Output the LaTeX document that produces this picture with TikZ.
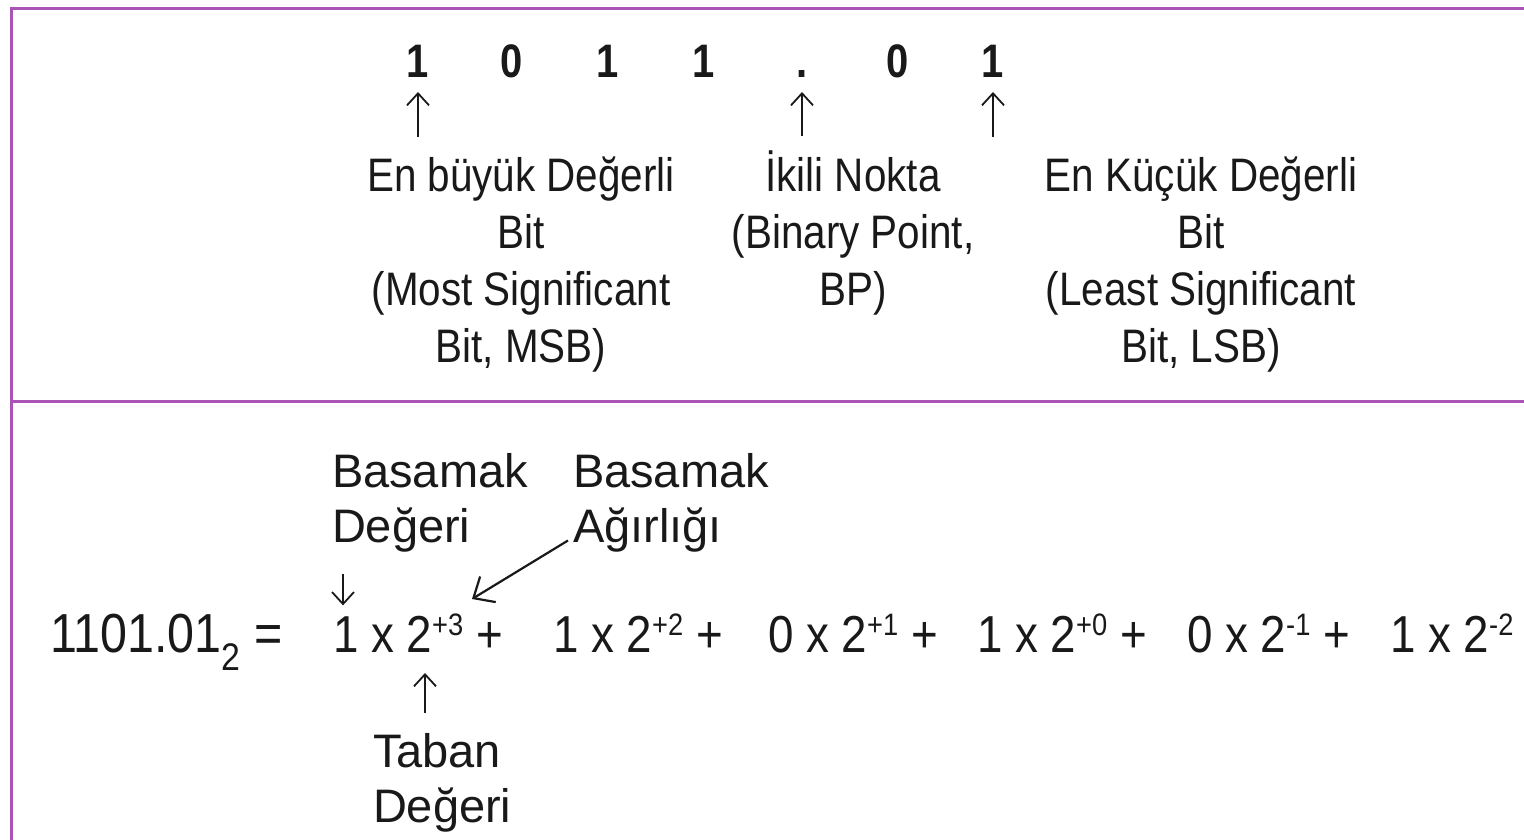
\documentclass[tikz,border=0pt]{standalone}
\usepackage{fontspec}
\setmainfont{Liberation Sans}
\usetikzlibrary{arrows.meta}
\definecolor{tableline}{RGB}{170,84,182}
\definecolor{ink}{RGB}{25,25,25}
% multi-line labels: baseline of the node is the baseline of the first line
\newcommand\toplbl[1]{\scalebox{0.86}[1]{\begin{tabular}[t]{@{}c@{}}#1\end{tabular}}}
\newcommand\botlbl[1]{\begin{tabular}[t]{@{}l@{}}#1\end{tabular}}
\newcommand\narrowdigit[1]{\scalebox{0.85}[1]{#1}}
\newcommand\eqleft[1]{\scalebox{0.88}[1]{#1}}
\newcommand\eqterm[1]{\scalebox{0.88}[1]{#1}}
% exponent set as a raised smaller number
\newcommand\pow[1]{\raisebox{17pt}{\fontsize{31}{31}\selectfont#1}}
\begin{document}
\begin{tikzpicture}[x=1pt,y=-1pt,
  every node/.style={inner sep=0pt, outer sep=0pt, text=ink},
  digit/.style={anchor=base, font=\fontsize{47}{47}\selectfont\bfseries},
  toptext/.style={anchor=base, font=\fontsize{47}{57}\selectfont},
  bottext/.style={anchor=base west, font=\fontsize{47}{55}\selectfont},
  eqbig/.style={anchor=base west, font=\fontsize{55}{55}\selectfont},
  eqtext/.style={anchor=base west, font=\fontsize{52}{52}\selectfont},
  frame/.style={draw=tableline, line width=3pt},
  pointer/.style={draw=ink, line width=1.8pt,
    -{Straight Barb[length=12pt,width=22pt,line width=1.8pt]}},
  bigpointer/.style={draw=ink, line width=2.2pt,
    -{Straight Barb[length=17pt,width=30pt,line width=2.2pt]}}
]
\useasboundingbox (0,0) rectangle (1524,840);

% table rules
\draw[frame] (1524,9) -- (11,9) -- (11,840);
\draw[frame] (11,401) -- (1524,401);

% ---- upper cell: the binary number and its named positions
\node[digit] (d1) at (418,78) {\narrowdigit{1}};
\node[digit] (d2) at (512,78) {\narrowdigit{0}};
\node[digit] (d3) at (608,78) {\narrowdigit{1}};
\node[digit] (d4) at (704,78) {\narrowdigit{1}};
\node[digit] (d5) at (802,78) {\narrowdigit{.}};
\node[digit] (d6) at (898,78) {\narrowdigit{0}};
\node[digit] (d7) at (993,78) {\narrowdigit{1}};

\node[toptext] (msb) at (521,192)
  {\toplbl{En büyük Değerli\\Bit\\(Most Significant\\Bit, MSB)}};
\node[toptext] (bp) at (853,192)
  {\toplbl{İkili Nokta\\(Binary Point,\\BP)}};
\node[toptext] (lsb) at (1201,192)
  {\toplbl{En Küçük Değerli\\Bit\\(Least Significant\\Bit, LSB)}};

\draw[pointer, shorten <=15pt, shorten >=14pt] (msb.north -| d1.south) -- (d1.south);
\draw[pointer, shorten <=15pt, shorten >=14pt] (bp.north -| d5.south) -- (d5.south);
\draw[pointer, shorten <=15pt, shorten >=14pt] (lsb.north -| d7.south) -- (d7.south);

% ---- lower cell: positional expansion
\node[eqbig] (t0) at (50,652) {\eqleft{1101.01\textsubscript{2} =}};
\node[eqtext] (t1) at (333,652) {\eqterm{1 x 2\pow{+3} +}};
\node[eqtext] (t2) at (553,652) {\eqterm{1 x 2\pow{+2} +}};
\node[eqtext] (t3) at (768,652) {\eqterm{0 x 2\pow{+1} +}};
\node[eqtext] (t4) at (977,652) {\eqterm{1 x 2\pow{+0} +}};
\node[eqtext] (t5) at (1187,652) {\eqterm{0 x 2\pow{-1} +}};
\node[eqtext] (t6) at (1390,652) {\eqterm{1 x 2\pow{-2}}};

\node[bottext] (bd) at (332,487) {\botlbl{Basamak\\Değeri}};
\node[bottext] (ba) at (573,487) {\botlbl{Basamak\\Ağırlığı}};
\node[bottext] (tb) at (373,767) {\botlbl{Taban\\Değeri}};

\coordinate (digval) at ([xshift=11pt]bd.south west);
\coordinate (base2) at ([xshift=52pt]tb.north west);
\coordinate (weight) at (472,599);

\draw[pointer, shorten <=15pt, shorten >=8pt] (digval) -- (digval |- t1.north);
\draw[bigpointer] ([xshift=-5pt,yshift=18pt]ba.south west) -- (weight);
\draw[pointer, shorten <=16pt, shorten >=21pt] (base2) -- (base2 |- t1.south);
\end{tikzpicture}
\end{document}
